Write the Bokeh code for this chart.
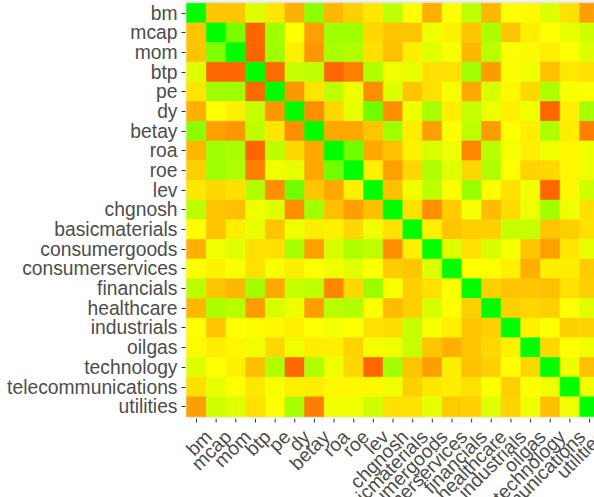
import math
from bokeh.plotting import figure
from bokeh.layouts import column
from bokeh.models import ColumnDataSource, LinearColorMapper, FixedTicker, Range1d
from bokeh.core.properties import value
from bokeh.embed import file_html
from bokeh.resources import INLINE

names = ["bm", "mcap", "mom", "btp", "pe", "dy", "betay", "roa", "roe", "lev",
         "chgnosh", "basicmaterials", "consumergoods", "consumerservices",
         "financials", "healthcare", "industrials", "oilgas", "technology",
         "telecommunications", "utilities"]

# lower triangle of the correlation matrix (row i, columns 0..i)
r_bm = [1.0]
r_mcap = [-0.22, 1.0]
r_mom = [-0.22, 0.50, 1.0]
r_btp = [0.13, -0.60, -0.60, 1.0]
r_pe = [-0.10, 0.37, 0.37, -0.58, 1.0]
r_dy = [-0.31, 0.00, -0.06, 0.22, -0.40, 1.0]
r_betay = [0.45, -0.37, -0.40, 0.25, -0.10, -0.44, 1.0]
r_roa = [-0.28, 0.37, 0.34, -0.60, 0.25, -0.15, -0.34, 1.0]
r_roe = [-0.18, 0.37, 0.31, -0.50, 0.06, 0.09, -0.34, 0.56, 1.0]
r_lev = [-0.09, -0.15, -0.12, 0.31, -0.44, 0.56, -0.22, -0.34, -0.06, 1.0]
r_chgnosh = [0.25, -0.22, -0.25, 0.06, 0.13, -0.44, 0.37, -0.25, -0.37, -0.25, 1.0]
r_basic = [0.00, -0.22, -0.07, 0.09, -0.22, 0.07, -0.07, -0.05, -0.15, 0.06, -0.11, 1.0]
r_cgoods = [-0.31, 0.06, 0.12, -0.12, -0.12, 0.34, -0.37, 0.15, 0.31, 0.25, -0.44, -0.06, 1.0]
r_cserv = [0.00, -0.05, 0.03, -0.12, 0.03, -0.07, 0.00, 0.06, 0.12, 0.00, -0.20, -0.22, 0.13, 1.0]
r_fin = [0.25, -0.22, -0.28, 0.37, -0.34, 0.22, 0.25, -0.47, -0.15, 0.40, 0.03, -0.18, -0.12, 0.00, 1.0]
r_health = [-0.28, 0.33, 0.28, -0.39, 0.15, 0.07, -0.39, 0.28, 0.31, 0.00, -0.26, -0.18, 0.15, 0.00, -0.18, 1.0]
r_ind = [0.00, -0.22, 0.00, -0.01, -0.03, -0.06, 0.00, 0.04, 0.00, -0.11, -0.14, 0.22, 0.03, -0.06, -0.22, -0.18, 1.0]
r_oil = [-0.02, -0.07, -0.03, 0.06, -0.15, 0.06, -0.07, -0.06, -0.17, 0.04, 0.07, 0.22, -0.22, -0.31, -0.22, -0.15, -0.06, 1.0]
r_tech = [0.13, 0.00, -0.06, -0.25, 0.31, -0.60, 0.31, 0.07, -0.15, -0.60, 0.36, -0.22, -0.37, -0.07, -0.25, -0.18, 0.00, -0.15, 1.0]
r_tele = [-0.12, 0.09, 0.00, -0.09, 0.03, -0.06, -0.07, -0.03, -0.03, -0.03, 0.06, -0.18, -0.09, -0.07, -0.12, 0.00, -0.18, 0.00, 0.06, 1.0]
r_util = [-0.37, 0.18, 0.13, -0.12, 0.00, 0.34, -0.50, 0.06, 0.06, 0.18, -0.12, -0.11, 0.09, -0.20, -0.18, 0.12, -0.17, 0.06, -0.25, 0.06, 1.0]

lower = [r_bm, r_mcap, r_mom, r_btp, r_pe, r_dy, r_betay, r_roa, r_roe, r_lev,
         r_chgnosh, r_basic, r_cgoods, r_cserv, r_fin, r_health, r_ind, r_oil,
         r_tech, r_tele, r_util]

n = len(names)
xs, ys, vals = [], [], []
for i in range(n):
    for j in range(n):
        v = lower[i][j] if j <= i else lower[j][i]
        xs.append(j)
        ys.append(n - 1 - i)
        vals.append(v)
src = ColumnDataSource(dict(x=xs, y=ys, v=vals))


def ramp(t):
    if t < 0:
        return "#%02x%02x00" % (255, int(round(255 * (1 + t))))
    return "#%02x%02x00" % (int(round(255 * (1 - t))), 255)


palette = [ramp(-1 + 2 * k / 255) for k in range(256)]
mapper = LinearColorMapper(palette=palette, low=-1, high=1)

CELL = 19.65
X0, X1 = -0.561, 20.253
TOP_H, BOT_H, LEFT = 418, 79, 185
TXT = "#4D4D4D"
FONT = "Liberation Sans"
FSIZE = "19.3px"

# ---- heat map panel ----
p = figure(width=594, height=TOP_H, output_backend="svg", toolbar_location=None,
           x_range=Range1d(X0, X1), y_range=Range1d(-0.6, 20.637),
           x_axis_location=None,
           min_border_left=LEFT, min_border_right=0, min_border_top=0,
           min_border_bottom=0)
p.rect(x="x", y="y", width=1, height=1, source=src,
       fill_color={"field": "v", "transform": mapper},
       line_color={"field": "v", "transform": mapper}, line_width=0.6)
p.background_fill_color = "#EBEBEB"
p.border_fill_color = "white"
p.outline_line_color = None
p.grid.grid_line_color = None

ya = p.yaxis[0]
ya.ticker = FixedTicker(ticks=list(range(n)))
ya.major_label_overrides = {n - 1 - i: names[i] for i in range(n)}
ya.axis_line_color = None
ya.major_tick_line_color = "#333333"
ya.major_tick_out = 4
ya.major_tick_in = 0
ya.minor_tick_line_color = None
ya.major_label_text_font = FONT
ya.major_label_text_font_size = FSIZE
ya.major_label_text_color = TXT
ya.major_label_standoff = 4

# ---- bottom strip: x ticks and rotated category labels ----
q = figure(width=594, height=BOT_H, output_backend="svg", toolbar_location=None,
           x_range=Range1d(X0 - LEFT / CELL, X1), y_range=Range1d(0, BOT_H),
           x_axis_location=None, y_axis_location=None,
           min_border_left=0, min_border_right=0, min_border_top=0,
           min_border_bottom=0)
q.background_fill_color = "white"
q.border_fill_color = "white"
q.outline_line_color = None
q.grid.grid_line_color = None

pos = list(range(n))
q.segment(x0=pos, y0=[BOT_H] * n, x1=pos, y1=[BOT_H - 4] * n,
          line_color="#333333", line_width=1)
q.text(x=pos, y=[BOT_H - 15] * n, text=names, angle=math.pi / 4,
       x_offset=12, text_align="right", text_baseline="alphabetic",
       text_font=value(FONT), text_font_size=value(FSIZE), text_color=TXT)

layout = column(column(p, spacing=0), column(q, spacing=0), spacing=0)
open("out.html", "w").write(file_html(layout, INLINE))
